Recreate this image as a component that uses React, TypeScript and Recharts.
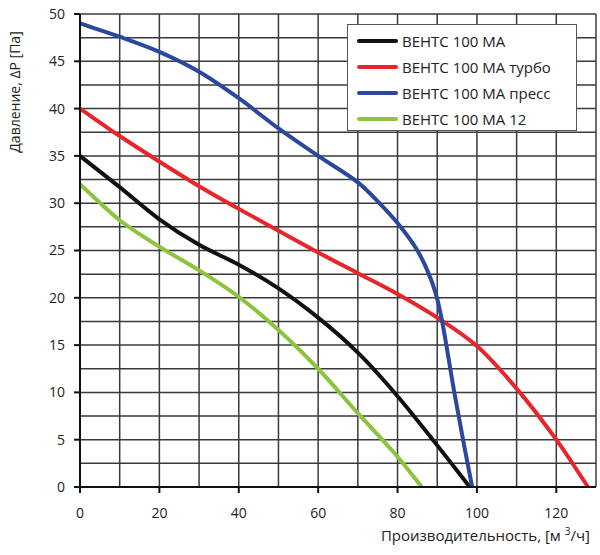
import React from 'react';
import { LineChart, Line, XAxis, YAxis, CartesianGrid } from 'recharts';

const seriesNames = ['ВЕНТС 100 МА', 'ВЕНТС 100 МА турбо', 'ВЕНТС 100 МА пресс', 'ВЕНТС 100 МА 12'];
const seriesColors = ['#111111', '#e8252b', '#2b479e', '#8cc43f'];

const maPoints = [
  { x: 0, y: 35 }, { x: 10, y: 31.7 }, { x: 20, y: 28.3 }, { x: 30, y: 25.6 }, { x: 40, y: 23.5 },
  { x: 50, y: 21.0 }, { x: 60, y: 17.9 }, { x: 70, y: 14.2 }, { x: 80, y: 9.6 }, { x: 90, y: 4.4 }, { x: 98.2, y: 0 },
];
const turboPoints = [
  { x: 0, y: 40 }, { x: 10, y: 37.1 }, { x: 20, y: 34.4 }, { x: 30, y: 31.8 }, { x: 40, y: 29.4 },
  { x: 50, y: 27.1 }, { x: 60, y: 24.8 }, { x: 70, y: 22.6 }, { x: 80, y: 20.4 }, { x: 90, y: 17.9 },
  { x: 100, y: 14.9 }, { x: 110, y: 10.4 }, { x: 120, y: 5.0 }, { x: 128, y: 0 },
];
const pressPoints = [
  { x: 0, y: 49 }, { x: 10, y: 47.6 }, { x: 20, y: 46 }, { x: 30, y: 43.9 }, { x: 40, y: 41.1 },
  { x: 50, y: 37.9 }, { x: 60, y: 35.0 }, { x: 70, y: 32.2 }, { x: 75, y: 30.2 }, { x: 80, y: 27.9 },
  { x: 85, y: 25.0 }, { x: 87.5, y: 22.9 }, { x: 89.6, y: 20.5 }, { x: 91, y: 18 }, { x: 92.3, y: 15 },
  { x: 94.3, y: 10 }, { x: 96.5, y: 5 }, { x: 98.8, y: 0 },
];
const ma12Points = [
  { x: 0, y: 32 }, { x: 10, y: 28.2 }, { x: 20, y: 25.4 }, { x: 30, y: 22.9 }, { x: 40, y: 20.1 },
  { x: 50, y: 16.6 }, { x: 60, y: 12.5 }, { x: 70, y: 7.8 }, { x: 80, y: 3.2 }, { x: 86.1, y: 0 },
];
const seriesData = [maPoints, turboPoints, pressPoints, ma12Points];

const xTicks = [0, 20, 40, 60, 80, 100, 120];
const yTicks = [0, 5, 10, 15, 20, 25, 30, 35, 40, 45, 50];
const xGrid = [0, 10, 20, 30, 40, 50, 60, 70, 80, 90, 100, 110, 120, 130];
const yGrid = [0, 2.5, 5, 7.5, 10, 12.5, 15, 17.5, 20, 22.5, 25, 27.5, 30, 32.5, 35, 37.5, 40, 42.5, 45, 47.5, 50];

const FONT = '"Open Sans", "Noto Sans", sans-serif';

// Centripetal Catmull-Rom curve factory (smooth interpolation through the points)
function smoothCurve(context: any) {
  let pts: number[][] = [];
  const dist = (a: number[], b: number[]) => Math.pow(Math.hypot(b[0] - a[0], b[1] - a[1]), 0.5);
  return {
    areaStart() {},
    areaEnd() {},
    lineStart() {
      pts = [];
    },
    point(x: number, y: number) {
      pts.push([+x, +y]);
    },
    lineEnd() {
      const n = pts.length;
      if (!n) return;
      context.moveTo(pts[0][0], pts[0][1]);
      for (let i = 0; i < n - 1; i++) {
        const p0 = pts[i - 1] || pts[i];
        const p1 = pts[i];
        const p2 = pts[i + 1];
        const p3 = pts[i + 2] || pts[i + 1];
        const d1 = dist(p0, p1);
        const d2 = dist(p1, p2);
        const d3 = dist(p2, p3);
        let c1 = [p1[0] + (p2[0] - p1[0]) / 3, p1[1] + (p2[1] - p1[1]) / 3];
        let c2 = [p2[0] - (p2[0] - p1[0]) / 3, p2[1] - (p2[1] - p1[1]) / 3];
        if (d1 > 1e-6) {
          const a = 2 * d1 * d1 + 3 * d1 * d2 + d2 * d2;
          const m = 3 * d1 * (d1 + d2);
          c1 = [
            (d1 * d1 * p2[0] - d2 * d2 * p0[0] + a * p1[0]) / m,
            (d1 * d1 * p2[1] - d2 * d2 * p0[1] + a * p1[1]) / m,
          ];
        }
        if (d3 > 1e-6) {
          const b = 2 * d3 * d3 + 3 * d3 * d2 + d2 * d2;
          const m = 3 * d3 * (d3 + d2);
          c2 = [
            (d3 * d3 * p1[0] - d2 * d2 * p3[0] + b * p2[0]) / m,
            (d3 * d3 * p1[1] - d2 * d2 * p3[1] + b * p2[1]) / m,
          ];
        }
        context.bezierCurveTo(c1[0], c1[1], c2[0], c2[1], p2[0], p2[1]);
      }
    },
  };
}

export default function App() {
  return (
    <div style={{ position: 'absolute', left: 0, top: 0, width: 600, height: 555, fontFamily: FONT, background: '#fff' }}>
      <LineChart width={600} height={555} margin={{ top: 14, right: 4, bottom: 38, left: 20 }}>
        <CartesianGrid
          stroke="#3a3a3a"
          strokeWidth={1.5}
          horizontalValues={yGrid}
          verticalValues={xGrid}
        />
        <XAxis
          type="number"
          dataKey="x"
          domain={[0, 130]}
          ticks={xTicks}
          allowDataOverflow
          height={30}
          axisLine={{ stroke: '#111', strokeWidth: 2 }}
          tickLine={{ stroke: '#111', strokeWidth: 2 }}
          tickSize={6}
          tick={{ fill: '#222', fontSize: 14, fontFamily: FONT }}
          tickMargin={15}
        />
        <YAxis
          type="number"
          domain={[0, 50]}
          ticks={yTicks}
          width={60}
          axisLine={{ stroke: '#111', strokeWidth: 2 }}
          tickLine={{ stroke: '#111', strokeWidth: 2 }}
          tickSize={6}
          tickMargin={9}
          tick={{ fill: '#222', fontSize: 14, fontFamily: FONT }}
        />
        {seriesData.map((d, i) => (
          <Line
            key={seriesNames[i]}
            data={d}
            dataKey="y"
            type={smoothCurve as any}
            stroke={seriesColors[i]}
            strokeWidth={4}
            dot={false}
            activeDot={false}
            isAnimationActive={false}
          />
        ))}
        <text
          x={14}
          y={92}
          transform="rotate(-90 14 92)"
          textAnchor="middle"
          dominantBaseline="central"
          fontSize={14}
          fill="#222"
          fontFamily={FONT}
        >
          Давление, ΔP [Па]
        </text>
        <text x={590} y={541} textAnchor="end" fontSize={15} fill="#222" fontFamily={FONT}>
          Производительность, [м <tspan dy={-6} fontSize={10}>3</tspan><tspan dy={6}>/ч]</tspan>
        </text>
      </LineChart>
      <div
        style={{
          position: 'absolute',
          left: 347,
          top: 24,
          width: 230,
          height: 107,
          boxSizing: 'border-box',
          border: '1.5px solid #555',
          background: '#fff',
          padding: '3px 0 0 9px',
        }}
      >
        {seriesNames.map((n, i) => (
          <div key={n} style={{ display: 'flex', alignItems: 'center', height: 26, fontSize: 15, color: '#222' }}>
            <div style={{ width: 41, height: 4, background: seriesColors[i], borderRadius: 2, marginRight: 4 }} />
            <span>{n}</span>
          </div>
        ))}
      </div>
    </div>
  );
}
